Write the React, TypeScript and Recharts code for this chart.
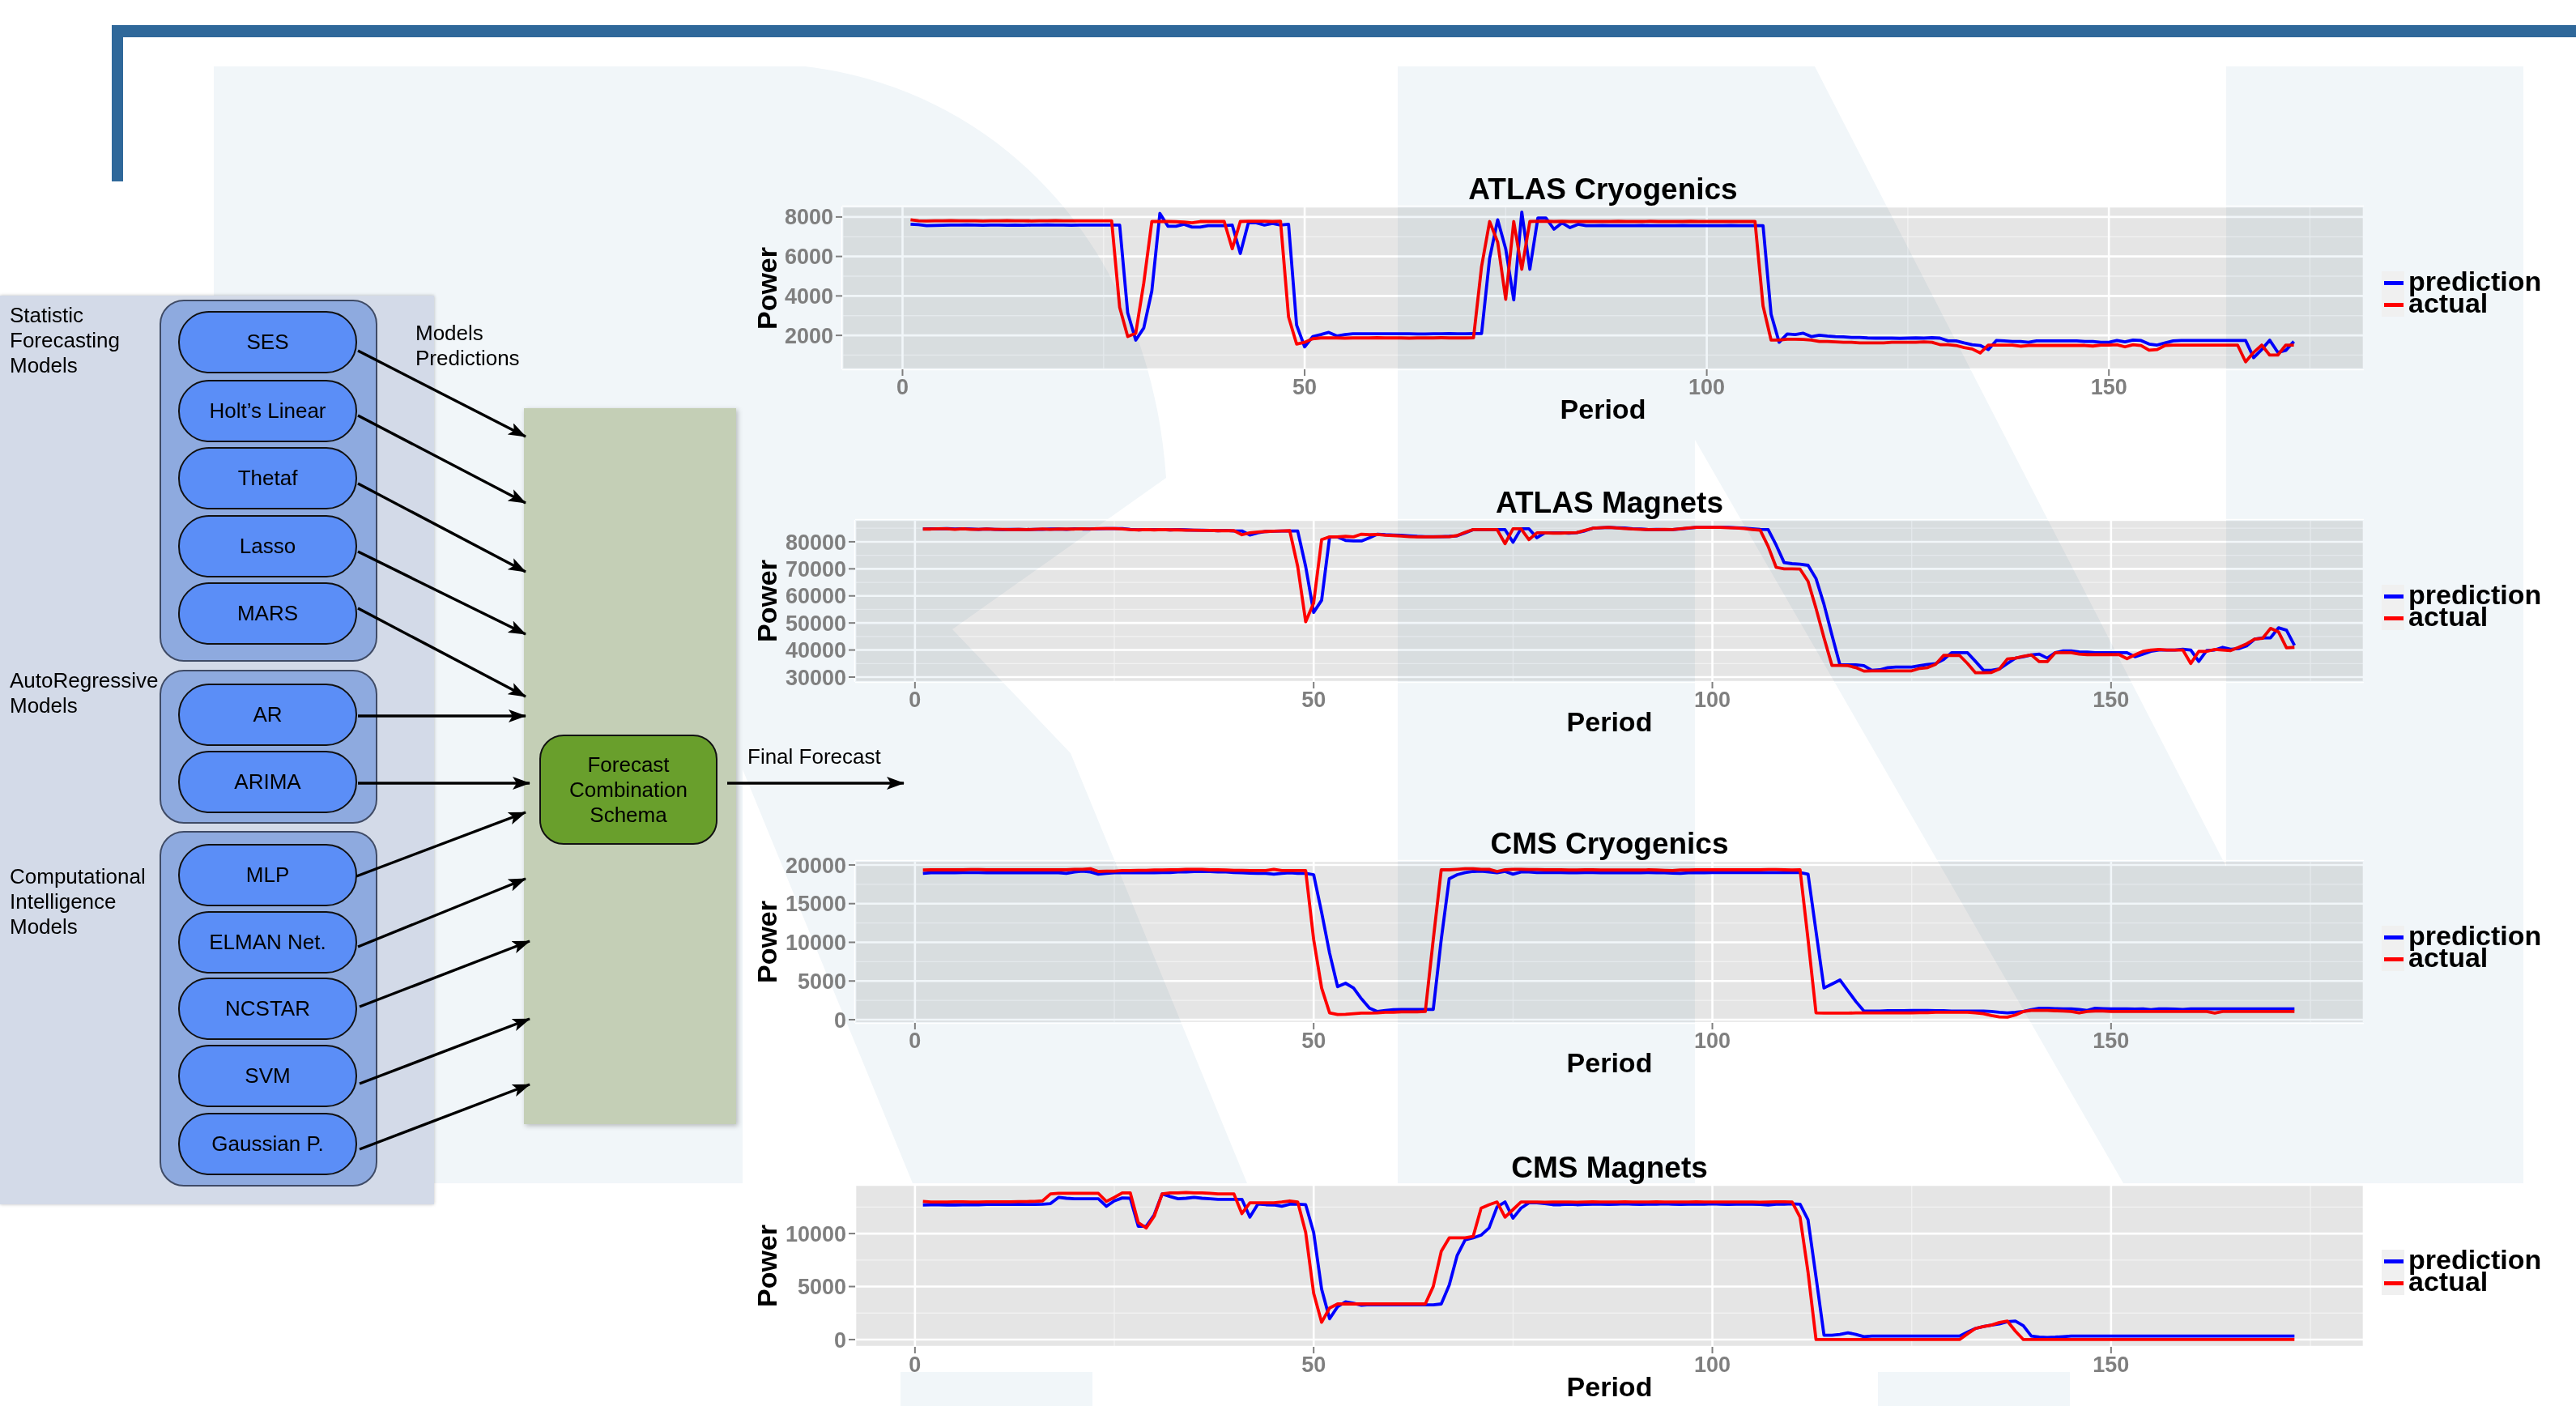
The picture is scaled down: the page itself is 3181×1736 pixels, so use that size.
import React from "react";
import { LineChart, Line, XAxis, YAxis, CartesianGrid } from "recharts";

const FONT = '"Liberation Sans", Arial, Helvetica, sans-serif';

// period index 1..173 shared by every panel
const periods = Array.from({ length: 173 }, (_, i) => i + 1);
const periodTicks = [0, 50, 100, 150];
const periodMinor = [25, 75, 125, 175];
const xDomain: [number, number] = [-7.5, 181.7];

const seriesNames = ["prediction", "actual"];
const seriesColors = ["#0000ff", "#ff0000"];

const atlasCryoPred = [
  7630, 7610, 7560, 7570, 7580, 7590, 7590, 7600, 7590, 7580,
  7590, 7590, 7580, 7590, 7580, 7590, 7590, 7600, 7590, 7590,
  7580, 7590, 7590, 7590, 7590, 7590, 7590, 3140, 1760, 2380,
  4250, 8180, 7530, 7530, 7630, 7490, 7490, 7560, 7560, 7560,
  7590, 6150, 7700, 7700, 7590, 7670, 7590, 7630, 2520, 1420,
  1940, 2040, 2150, 1970, 2040, 2080, 2080, 2080, 2080, 2080,
  2080, 2080, 2080, 2070, 2070, 2080, 2080, 2090, 2080, 2080,
  2090, 2090, 5900, 7860, 6390, 3800, 8250, 5350, 7950, 7950,
  7380, 7700, 7460, 7630, 7560, 7560, 7570, 7560, 7560, 7560,
  7560, 7570, 7560, 7560, 7560, 7560, 7570, 7560, 7560, 7560,
  7560, 7560, 7570, 7560, 7560, 7560, 7560, 3070, 1650, 2070,
  2040, 2110, 1940, 2010, 1970, 1940, 1930, 1900, 1900, 1870,
  1860, 1860, 1860, 1850, 1860, 1870, 1860, 1880, 1860, 1720,
  1720, 1620, 1530, 1490, 1280, 1740, 1720, 1690, 1690, 1650,
  1720, 1720, 1720, 1720, 1720, 1720, 1690, 1690, 1650, 1650,
  1740, 1670, 1760, 1740, 1560, 1510, 1620, 1720, 1740, 1740,
  1740, 1740, 1740, 1740, 1740, 1740, 1740, 870, 1280, 1760,
  1140, 1240, 1690,
];
const atlasCryoActual = [
  7860, 7810, 7800, 7810, 7810, 7820, 7810, 7810, 7810, 7800,
  7810, 7810, 7820, 7810, 7810, 7800, 7810, 7810, 7820, 7810,
  7810, 7810, 7810, 7810, 7810, 7810, 3420, 1940, 2110, 4660,
  7770, 7770, 7770, 7760, 7740, 7700, 7770, 7770, 7770, 7770,
  6390, 7770, 7790, 7790, 7790, 7770, 7790, 2940, 1560, 1650,
  1830, 1870, 1870, 1870, 1860, 1870, 1870, 1870, 1880, 1870,
  1870, 1870, 1860, 1870, 1870, 1870, 1880, 1870, 1870, 1870,
  1880, 5490, 7770, 6730, 3830, 7770, 5350, 7770, 7790, 7780,
  7770, 7780, 7770, 7770, 7770, 7770, 7770, 7770, 7780, 7770,
  7770, 7770, 7780, 7770, 7770, 7770, 7770, 7780, 7770, 7770,
  7770, 7770, 7770, 7770, 7770, 7770, 3490, 1760, 1760, 1800,
  1800, 1790, 1760, 1690, 1690, 1670, 1650, 1650, 1620, 1620,
  1620, 1620, 1650, 1650, 1650, 1650, 1670, 1650, 1530, 1530,
  1490, 1380, 1310, 1110, 1510, 1510, 1510, 1510, 1450, 1490,
  1490, 1490, 1490, 1490, 1490, 1490, 1490, 1460, 1510, 1510,
  1530, 1420, 1530, 1490, 1250, 1280, 1490, 1510, 1510, 1510,
  1510, 1510, 1510, 1510, 1510, 1510, 660, 1140, 1510, 1000,
  1000, 1510, 1510,
];

const atlasMagPred = [
  84700, 84800, 84800, 84900, 84700, 84800, 84700, 84600, 84700, 84600,
  84500, 84600, 84600, 84500, 84600, 84600, 84700, 84700, 84600, 84800,
  84700, 84700, 84800, 84900, 84900, 84900, 84600, 84400, 84500, 84500,
  84500, 84400, 84500, 84400, 84300, 84300, 84200, 84100, 84200, 84000,
  84000, 82500, 83300, 83800, 83900, 84000, 84000, 84000, 70850, 53900,
  58400, 81800, 81800, 80500, 80300, 80300, 81500, 82800, 82600, 82500,
  82400, 82200, 82000, 81900, 81900, 81900, 82000, 82200, 83300, 84500,
  84500, 84500, 84500, 84500, 79800, 84800, 84800, 81500, 83300, 83300,
  83300, 83200, 83400, 84000, 85000, 85200, 85300, 85200, 85100, 84800,
  84700, 84500, 84600, 84500, 84500, 84700, 85000, 85300, 85300, 85300,
  85300, 85300, 85200, 85000, 84800, 84600, 84500, 78800, 72300, 71900,
  71700, 71300, 66400, 56900, 45500, 34500, 34500, 34500, 34200, 32500,
  32700, 33500, 33700, 33700, 33700, 34200, 34700, 35000, 36500, 39000,
  39000, 39000, 35800, 32500, 32500, 33000, 35000, 37000, 37500, 38200,
  38500, 37000, 39000, 39700, 39700, 39300, 39200, 39000, 39000, 39000,
  39000, 39000, 37500, 38500, 39500, 40000, 40000, 40000, 40300, 40000,
  35800, 39800, 40000, 41000, 40300, 40500, 41500, 44000, 44500, 44500,
  48200, 47300, 41700,
];
const atlasMagActual = [
  84700, 84700, 84800, 84800, 84600, 84800, 84600, 84600, 84700, 84600,
  84600, 84500, 84600, 84500, 84600, 84700, 84600, 84700, 84700, 84700,
  84800, 84700, 84900, 84900, 84900, 84700, 84500, 84400, 84500, 84400,
  84500, 84400, 84400, 84300, 84300, 84200, 84200, 84100, 84100, 84100,
  82600, 83300, 83600, 83800, 83900, 84000, 84100, 70850, 50450, 57400,
  80800, 81800, 81800, 82000, 81800, 82800, 82600, 82700, 82400, 82300,
  82100, 81900, 81800, 81800, 81800, 81900, 81900, 82300, 83500, 84500,
  84500, 84500, 84500, 79300, 84800, 84800, 80800, 83300, 83300, 83200,
  83200, 83300, 83400, 84200, 85000, 85200, 85300, 85100, 84900, 84700,
  84600, 84500, 84500, 84600, 84500, 84800, 85100, 85300, 85300, 85300,
  85300, 85200, 85100, 84900, 84500, 84300, 78300, 70550, 70000, 70000,
  69900, 65400, 55400, 44500, 34300, 34300, 34200, 33500, 32200, 32300,
  32300, 32300, 32300, 32300, 32300, 33200, 33500, 34700, 38000, 38000,
  38000, 35000, 31600, 31600, 31700, 33000, 36700, 37000, 37700, 38200,
  35700, 35700, 39000, 39000, 39000, 38500, 38300, 38300, 38300, 38300,
  38300, 36800, 38200, 39500, 40000, 40200, 40000, 40000, 40000, 35000,
  39500, 39500, 40200, 40000, 39800, 41000, 42300, 44000, 44300, 48000,
  46700, 40800, 41000,
];

const cmsCryoPred = [
  18920, 18990, 18990, 18990, 18990, 19020, 19020, 19020, 18990, 18990,
  18990, 18990, 18990, 18990, 18990, 18990, 18990, 18990, 18920, 19090,
  19200, 19090, 18810, 18920, 18990, 18990, 18990, 18990, 18990, 18990,
  19020, 19020, 19090, 19090, 19160, 19160, 19160, 19090, 19090, 19020,
  18990, 18950, 18920, 18920, 18810, 18920, 18990, 18920, 18920, 18740,
  13860, 8600, 4260, 4710, 4090, 2690, 1500, 1050, 1190, 1290,
  1330, 1330, 1330, 1330, 1330, 10370, 18220, 18740, 19020, 19160,
  19200, 19090, 18990, 19160, 18810, 19090, 19090, 19020, 19020, 19020,
  19020, 18990, 18990, 19020, 19020, 18990, 18990, 18990, 18990, 18990,
  18990, 19020, 18990, 18990, 18950, 18920, 18990, 18990, 18990, 19020,
  19020, 19020, 19020, 19020, 19020, 19020, 19020, 19020, 19020, 19020,
  19020, 18810, 11410, 4090, 4610, 5130, 3740, 2340, 1120, 1120,
  1120, 1150, 1150, 1150, 1190, 1190, 1190, 1150, 1150, 1120,
  1120, 1120, 1120, 1120, 1050, 950, 880, 950, 1050, 1290,
  1470, 1470, 1430, 1400, 1400, 1330, 1190, 1470, 1430, 1400,
  1400, 1400, 1360, 1400, 1290, 1400, 1400, 1360, 1330, 1400,
  1400, 1400, 1400, 1400, 1400, 1400, 1400, 1400, 1400, 1400,
  1400, 1400, 1400,
];
const cmsCryoActual = [
  19340, 19370, 19370, 19370, 19370, 19370, 19400, 19400, 19370, 19370,
  19370, 19370, 19370, 19370, 19370, 19370, 19370, 19370, 19370, 19440,
  19440, 19510, 19160, 19200, 19200, 19270, 19270, 19300, 19300, 19340,
  19340, 19370, 19370, 19440, 19440, 19440, 19370, 19370, 19340, 19300,
  19300, 19270, 19270, 19270, 19440, 19270, 19270, 19270, 19270, 10370,
  4090, 880, 670, 700, 770, 840, 840, 880, 950, 950,
  1010, 1010, 1010, 1050, 10370, 19370, 19370, 19440, 19510, 19510,
  19440, 19440, 19160, 19370, 19440, 19440, 19410, 19400, 19370, 19370,
  19370, 19340, 19340, 19370, 19370, 19340, 19340, 19340, 19340, 19340,
  19340, 19370, 19340, 19300, 19270, 19340, 19340, 19370, 19370, 19370,
  19370, 19370, 19370, 19370, 19370, 19370, 19400, 19400, 19370, 19340,
  19370, 10370, 880, 840, 840, 840, 840, 880, 880, 880,
  880, 880, 880, 880, 880, 910, 910, 950, 950, 950,
  950, 950, 880, 770, 530, 350, 320, 600, 1050, 1190,
  1190, 1190, 1150, 1120, 1050, 880, 1050, 1120, 1120, 1050,
  1050, 1050, 1050, 1050, 1050, 1050, 1050, 1050, 1050, 1050,
  1050, 1050, 840, 1050, 1050, 1050, 1050, 1050, 1050, 1050,
  1050, 1050, 1050,
];

const cmsMagPred = [
  12700, 12720, 12720, 12700, 12700, 12720, 12720, 12720, 12740, 12740,
  12740, 12740, 12760, 12740, 12740, 12770, 12830, 13410, 13330, 13280,
  13280, 13280, 13280, 12570, 13080, 13360, 13330, 10690, 10690, 11760,
  13740, 13490, 13280, 13330, 13410, 13330, 13280, 13230, 13230, 13230,
  13230, 11550, 12780, 12720, 12700, 12570, 12770, 12770, 12720, 10100,
  4760, 1960, 3100, 3560, 3430, 3230, 3300, 3280, 3280, 3280,
  3280, 3280, 3280, 3280, 3280, 3360, 5140, 7940, 9410, 9590,
  9850, 10530, 12520, 12980, 11450, 12390, 12900, 12900, 12830, 12720,
  12720, 12770, 12720, 12740, 12770, 12770, 12740, 12770, 12800, 12770,
  12740, 12770, 12770, 12800, 12770, 12740, 12770, 12770, 12770, 12800,
  12770, 12740, 12770, 12770, 12770, 12740, 12700, 12770, 12770, 12800,
  12770, 11290, 5900, 410, 410, 490, 640, 490, 280, 330,
  330, 330, 330, 330, 330, 330, 330, 330, 330, 330,
  330, 700, 1050, 1230, 1360, 1480, 1690, 1740, 1300, 330,
  230, 200, 230, 280, 330, 330, 330, 330, 330, 330,
  330, 330, 330, 330, 330, 330, 330, 330, 330, 330,
  330, 330, 330, 330, 330, 330, 330, 330, 330, 330,
  330, 330, 330,
];
const cmsMagActual = [
  13030, 12980, 12980, 12980, 13000, 13000, 12980, 12980, 13000, 13000,
  13000, 13000, 13020, 13020, 13030, 13080, 13740, 13790, 13790, 13790,
  13790, 13790, 13790, 13030, 13410, 13840, 13840, 11040, 10530, 11630,
  13740, 13840, 13840, 13870, 13840, 13840, 13790, 13740, 13740, 13740,
  11880, 12900, 12900, 12900, 12900, 12980, 13080, 12980, 10100, 4380,
  1630, 2980, 3360, 3360, 3360, 3360, 3360, 3360, 3360, 3360,
  3360, 3360, 3360, 3360, 5010, 8320, 9590, 9590, 9590, 9720,
  12390, 12720, 12980, 11550, 12260, 12980, 12980, 12980, 12950, 12980,
  12980, 12980, 12950, 12980, 13000, 12980, 12980, 12980, 13000, 12980,
  12980, 12980, 13000, 12980, 12980, 12980, 12980, 13000, 12980, 12980,
  12980, 12980, 12980, 12980, 12980, 12950, 12980, 13000, 13000, 12980,
  11540, 6350, 0, 0, 0, 0, 0, 0, 0, 0,
  0, 0, 0, 0, 0, 0, 0, 0, 0, 0,
  0, 540, 1050, 1230, 1360, 1610, 1740, 800, 0, 0,
  0, 0, 0, 0, 0, 0, 0, 0, 0, 0,
  0, 0, 0, 0, 0, 0, 0, 0, 0, 0,
  0, 0, 0, 0, 0, 0, 0, 0, 0, 0,
  0, 0, 0,
];

const atlasCryoTicks = [2000, 4000, 6000, 8000];
const atlasCryoMinor = [1000, 3000, 5000, 7000];
const atlasMagTicks = [30000, 40000, 50000, 60000, 70000, 80000];
const atlasMagMinor = [35000, 45000, 55000, 65000, 75000, 85000];
const cmsCryoTicks = [0, 5000, 10000, 15000, 20000];
const cmsCryoMinor = [2500, 7500, 12500, 17500];
const cmsMagTicks = [0, 5000, 10000];
const cmsMagMinor = [2500, 7500, 12500];

// left-hand schema
const modelNames = ["SES", "Holt\u2019s Linear", "Thetaf", "Lasso", "MARS", "AR", "ARIMA", "MLP", "ELMAN Net.", "NCSTAR", "SVM", "Gaussian P."];
const pillTops = [384, 469, 552, 636, 719, 844, 927, 1042, 1125, 1207, 1290, 1374];
const groups = [
  { top: 370, height: 447, label: ["Statistic", "Forecasting", "Models"], labelTop: 374 },
  { top: 827, height: 190, label: ["AutoRegressive", "Models"], labelTop: 825 },
  { top: 1026, height: 439, label: ["Computational", "Intelligence", "Models"], labelTop: 1067 },
];
const arrows = [
  [442, 433, 649, 539], [442, 513, 649, 621], [442, 597, 649, 706], [442, 681, 649, 783],
  [442, 751, 649, 860], [442, 884, 649, 884], [442, 967, 654, 967], [440, 1082, 649, 1003],
  [442, 1169, 649, 1085], [444, 1243, 654, 1162], [444, 1338, 654, 1258], [444, 1419, 654, 1339],
  [898, 967, 1116, 967],
];

const watermarkPaths = [
  "M264,82 L994,82 C1230,110 1420,300 1440,590 L1176,777 L1322,930 L1540,1461 L1127,1461 L917,950 L917,1461 L264,1461 Z",
  "M1726,82 L2241,82 L2749,1070 L2749,82 L3116,82 L3116,1461 L2622,1461 L2093,543 L2093,1461 L1726,1461 Z",
  "M1112,1694 L1349,1694 L1349,1736 L1112,1736 Z",
  "M2319,1694 L2556,1694 L2556,1736 L2319,1736 Z",
];

type ChartProps = {
  title: string;
  pred: number[];
  actual: number[];
  yTicks: number[];
  yMinor: number[];
  yDomain: [number, number];
  left: number;
  top: number;
  width: number;
  height: number;
};

const panels: ChartProps[] = [
  { title: "ATLAS Cryogenics", pred: atlasCryoPred, actual: atlasCryoActual, yTicks: atlasCryoTicks, yMinor: atlasCryoMinor, yDomain: [280, 8530], left: 1040, top: 255, width: 1879, height: 201 },
  { title: "ATLAS Magnets", pred: atlasMagPred, actual: atlasMagActual, yTicks: atlasMagTicks, yMinor: atlasMagMinor, yDomain: [28200, 88060], left: 1056, top: 642, width: 1863, height: 200 },
  { title: "CMS Cryogenics", pred: cmsCryoPred, actual: cmsCryoActual, yTicks: cmsCryoTicks, yMinor: cmsCryoMinor, yDomain: [-420, 20520], left: 1056, top: 1063, width: 1863, height: 200 },
  { title: "CMS Magnets", pred: cmsMagPred, actual: cmsMagActual, yTicks: cmsMagTicks, yMinor: cmsMagMinor, yDomain: [-690, 14590], left: 1056, top: 1463, width: 1863, height: 200 },
];

const tickStyle = { fill: "#7f7f7f", fontSize: 27, fontWeight: 700, fontFamily: FONT };

function PowerChart({ title, pred, actual, yTicks, yMinor, yDomain, left, top, width, height }: ChartProps) {
  const data = periods.map((period, i) => ({ period, prediction: pred[i], actual: actual[i] }));
  const yAxisW = 130;
  const xAxisH = 60;
  const padTop = 20;
  const cx = left + width / 2;
  const cy = top + height / 2;
  const legendY = top + 108;
  const bold = { position: "absolute" as const, fontFamily: FONT, fontWeight: 700, color: "#000", whiteSpace: "nowrap" as const };
  return (
    <>
      <div style={{ position: "absolute", left: left - yAxisW, top: top - padTop }}>
        <LineChart width={yAxisW + width} height={height + xAxisH + padTop} data={data} margin={{ top: padTop, right: 0, bottom: 0, left: 0 }}>
          <CartesianGrid fill="#e5e5e5" fillOpacity={1} stroke="#f2f2f2" strokeWidth={1.3} horizontalValues={yMinor} verticalValues={periodMinor} />
          <CartesianGrid stroke="#ffffff" strokeWidth={2.6} />
          <XAxis
            type="number"
            dataKey="period"
            domain={xDomain}
            ticks={periodTicks}
            interval={0}
            allowDataOverflow
            height={xAxisH}
            axisLine={false}
            tickSize={8}
            tickMargin={4}
            tickLine={{ stroke: "#7f7f7f", strokeWidth: 2 }}
            tick={tickStyle}
          />
          <YAxis
            type="number"
            domain={yDomain}
            ticks={yTicks}
            interval={0}
            allowDataOverflow
            width={yAxisW}
            axisLine={false}
            tickSize={8}
            tickMargin={3}
            tickLine={{ stroke: "#7f7f7f", strokeWidth: 2 }}
            tick={tickStyle}
          />
          <Line type="linear" dataKey="prediction" name={seriesNames[0]} stroke={seriesColors[0]} strokeWidth={3.8} strokeLinejoin="round" dot={false} activeDot={false} isAnimationActive={false} />
          <Line type="linear" dataKey="actual" name={seriesNames[1]} stroke={seriesColors[1]} strokeWidth={3.8} strokeLinejoin="round" dot={false} activeDot={false} isAnimationActive={false} />
        </LineChart>
      </div>
      <div style={{ ...bold, left: cx - 500, width: 1000, top: top - 21 - 20, height: 40, lineHeight: "40px", fontSize: 37, textAlign: "center" }}>
        {title}
      </div>
      <div style={{ ...bold, left: 947 - 80, width: 160, top: cy - 18, height: 36, lineHeight: "36px", fontSize: 34, textAlign: "center", transform: "rotate(-90deg)" }}>
        Power
      </div>
      <div style={{ ...bold, left: cx - 200, width: 400, top: top + height + 49 - 18, height: 36, lineHeight: "36px", fontSize: 34, textAlign: "center" }}>
        Period
      </div>
      <div style={{ position: "absolute", left: 2941, top: legendY - 28, width: 28, height: 56, background: "#f0f0f0" }} />
      {seriesNames.map((name, i) => {
        const ky = legendY - 14 + i * 27;
        return (
          <React.Fragment key={name}>
            <div style={{ position: "absolute", left: 2944, top: ky - 2.5, width: 24, height: 5, background: seriesColors[i] }} />
            <div style={{ ...bold, left: 2974, top: ky - 15, height: 27, lineHeight: "27px", fontSize: 34 }}>{name}</div>
          </React.Fragment>
        );
      })}
    </>
  );
}

function Schema() {
  const txt = { fontFamily: FONT, fontSize: 26, lineHeight: "31px", color: "#000", whiteSpace: "nowrap" as const };
  return (
    <>
      <div style={{ position: "absolute", left: 0, top: 365, width: 536, height: 1122, background: "#d3dae8", boxShadow: "0 0 4px rgba(0,0,0,0.25)" }} />
      {groups.map((g) => (
        <React.Fragment key={g.label[0]}>
          <div style={{ position: "absolute", left: 197, top: g.top, width: 269, height: g.height, background: "#8eaadf", border: "2px solid #3f4b66", borderRadius: 30, boxSizing: "border-box" }} />
          <div style={{ ...txt, position: "absolute", left: 12, top: g.labelTop }}>
            {g.label.map((l) => (
              <div key={l}>{l}</div>
            ))}
          </div>
        </React.Fragment>
      ))}
      {modelNames.map((m, i) => (
        <div
          key={m}
          style={{
            ...txt,
            position: "absolute",
            left: 220,
            top: pillTops[i],
            width: 221,
            height: 77,
            background: "#5b8ef7",
            border: "2.5px solid #111",
            borderRadius: 38,
            boxSizing: "border-box",
            display: "flex",
            alignItems: "center",
            justifyContent: "center",
          }}
        >
          {m}
        </div>
      ))}
      <div style={{ ...txt, position: "absolute", left: 513, top: 396 }}>
        <div>Models</div>
        <div>Predictions</div>
      </div>
      <div style={{ position: "absolute", left: 647, top: 504, width: 262, height: 884, background: "#c4cfb6", boxShadow: "2px 2px 6px rgba(0,0,0,0.25)" }} />
      <div
        style={{
          ...txt,
          position: "absolute",
          left: 666,
          top: 907,
          width: 220,
          height: 136,
          background: "#699f2c",
          border: "2.5px solid #111",
          borderRadius: 30,
          boxSizing: "border-box",
          display: "flex",
          flexDirection: "column",
          alignItems: "center",
          justifyContent: "center",
          textAlign: "center",
        }}
      >
        <div>Forecast</div>
        <div>Combination</div>
        <div>Schema</div>
      </div>
      <div style={{ ...txt, position: "absolute", left: 923, top: 919 }}>Final Forecast</div>
      <svg width={3181} height={1736} style={{ position: "absolute", left: 0, top: 0, pointerEvents: "none" }}>
        <defs>
          <marker id="head" markerUnits="userSpaceOnUse" markerWidth={22} markerHeight={16} refX={21} refY={8} orient="auto">
            <path d="M0,0 L22,8 L0,16 L5,8 Z" fill="#000" />
          </marker>
        </defs>
        {arrows.map(([x1, y1, x2, y2], i) => (
          <line key={i} x1={x1} y1={y1} x2={x2} y2={y2} stroke="#000" strokeWidth={3.4} markerEnd="url(#head)" />
        ))}
      </svg>
    </>
  );
}

export default function App() {
  return (
    <div style={{ position: "absolute", left: 0, top: 0, width: 3181, height: 1736, overflow: "hidden", background: "#fff" }}>
      <svg width={3181} height={1736} style={{ position: "absolute", left: 0, top: 0 }}>
        {watermarkPaths.map((d, i) => (
          <path key={i} d={d} fill="#f1f6f9" />
        ))}
      </svg>
      <div style={{ position: "absolute", left: 138, top: 31, width: 3043, height: 15, background: "#2f689a" }} />
      <div style={{ position: "absolute", left: 138, top: 31, width: 14, height: 193, background: "#2f689a" }} />
      <Schema />
      {panels.map((p) => (
        <PowerChart key={p.title} {...p} />
      ))}
      <svg width={3181} height={1736} style={{ position: "absolute", left: 0, top: 0, pointerEvents: "none", mixBlendMode: "multiply" }}>
        <defs>
          <clipPath id="panelClip">
            {panels.map((p) => (
              <rect key={p.title} x={p.left} y={p.top} width={p.width} height={p.height} />
            ))}
          </clipPath>
        </defs>
        <g clipPath="url(#panelClip)">
          {watermarkPaths.map((d, i) => (
            <path key={i} d={d} fill="#f1f6f9" />
          ))}
        </g>
      </svg>
    </div>
  );
}
